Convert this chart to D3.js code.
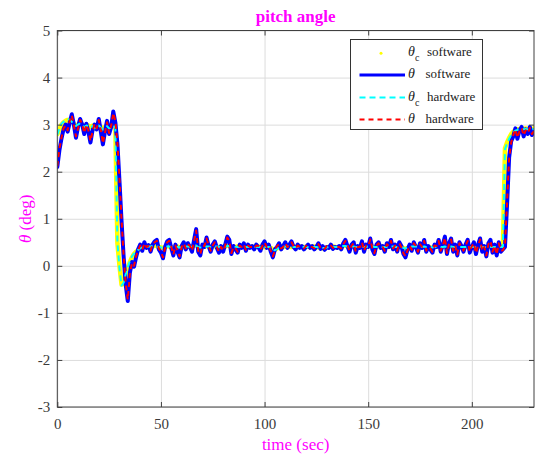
<!DOCTYPE html>
<html><head><meta charset="utf-8">
<script src="https://cdn.jsdelivr.net/npm/d3@7"></script>
<style>body{margin:0;background:#fff}svg{display:block}</style>
</head><body><svg id="c" width="535" height="458"></svg>
<script>
const xTicks=[0,50,100,150,200];
const yTicks=[-3,-2,-1,0,1,2,3,4,5];
const seriesNames=["software","software","hardware","hardware"];
const time=d3.range(0,231,1);

const thetaCSoftware=[
2.80,2.90,3.00,3.05,3.08,3.10,3.10,3.08,3.02,2.98,
3.00,3.05,3.00,2.95,3.00,2.98,2.95,2.98,2.92,2.95,
3.00,2.95,2.90,2.95,2.98,2.92,2.95,3.00,2.95,0.48,
0.00,-0.40,-0.38,-0.20,-0.05,0.08,0.18,0.25,0.30,0.33,
0.36,0.38,0.40,0.41,0.40,0.42,0.41,0.43,0.42,0.40,0.39,
0.38,0.40,0.42,0.41,0.39,0.38,0.40,0.41,0.39,0.38,
0.40,0.42,0.41,0.40,0.41,0.43,0.44,0.40,0.38,0.39,
0.41,0.42,0.41,0.40,0.40,0.42,0.41,0.39,0.38,0.40,
0.41,0.43,0.42,0.40,0.39,0.40,0.41,0.40,0.40,0.41,
0.40,0.39,0.40,0.41,0.40,0.40,0.41,0.40,0.39,0.40,
0.41,0.40,0.38,0.35,0.34,0.37,0.40,0.41,0.40,0.41,
0.42,0.41,0.40,0.41,0.40,0.40,0.41,0.40,0.40,0.40,
0.41,0.40,0.40,0.41,0.40,0.39,0.38,0.37,0.38,0.39,
0.40,0.40,0.41,0.40,0.39,0.40,0.41,0.42,0.43,0.42,
0.40,0.41,0.42,0.40,0.39,0.41,0.42,0.40,0.40,0.41,
0.43,0.41,0.39,0.40,0.42,0.41,0.40,0.39,0.41,0.40,
0.42,0.41,0.40,0.39,0.41,0.40,0.38,0.36,0.38,0.40,
0.41,0.42,0.41,0.40,0.41,0.40,0.42,0.40,0.40,0.39,
0.38,0.40,0.41,0.42,0.40,0.40,0.42,0.40,0.40,0.42,
0.40,0.40,0.38,0.40,0.41,0.40,0.40,0.42,0.40,0.39,
0.40,0.39,0.40,0.42,0.40,0.40,0.38,0.40,0.41,0.39,
0.40,0.38,0.40,0.39,0.40,
2.50,2.62,2.72,2.80,2.85,2.88,2.90,2.90,2.92,2.90,2.92,2.90,2.92,2.90,2.92];

const thetaSoftware=[
2.10,2.45,2.70,2.90,3.00,2.85,3.05,3.22,3.00,2.72,
2.95,3.12,3.00,2.80,3.02,2.85,2.62,2.88,3.00,2.90,
3.12,2.85,2.58,2.85,3.08,2.80,2.95,3.28,3.05,2.60,
1.80,0.95,0.20,-0.40,-0.75,-0.15,0.08,-0.02,0.18,0.35,
0.45,0.32,0.50,0.38,0.44,0.30,0.45,0.52,0.55,0.35,
0.28,0.16,0.40,0.52,0.55,0.38,0.22,0.45,0.30,0.18,
0.42,0.50,0.35,0.48,0.40,0.30,0.55,0.78,0.30,0.22,
0.45,0.40,0.60,0.42,0.30,0.45,0.52,0.38,0.28,0.42,
0.30,0.45,0.62,0.55,0.25,0.42,0.35,0.28,0.45,0.38,
0.48,0.32,0.45,0.38,0.42,0.35,0.45,0.40,0.32,0.45,
0.52,0.38,0.45,0.30,0.18,0.35,0.40,0.48,0.35,0.42,
0.50,0.38,0.45,0.52,0.40,0.35,0.45,0.38,0.42,0.35,
0.40,0.45,0.38,0.42,0.35,0.40,0.48,0.36,0.42,0.34,
0.40,0.38,0.45,0.36,0.40,0.38,0.42,0.35,0.48,0.55,
0.42,0.30,0.45,0.50,0.28,0.42,0.38,0.52,0.30,0.45,
0.40,0.58,0.35,0.25,0.45,0.50,0.38,0.42,0.30,0.48,
0.40,0.55,0.35,0.45,0.30,0.50,0.42,0.25,0.18,0.35,
0.45,0.32,0.50,0.40,0.28,0.48,0.38,0.55,0.30,0.42,
0.35,0.28,0.45,0.40,0.55,0.30,0.45,0.62,0.25,0.48,
0.58,0.30,0.45,0.22,0.50,0.42,0.30,0.45,0.55,0.28,
0.40,0.50,0.25,0.45,0.58,0.30,0.42,0.20,0.48,0.55,
0.28,0.45,0.22,0.50,0.30,0.35,0.40,1.30,2.30,2.65,
2.75,2.92,2.70,2.88,2.95,2.75,2.90,2.80,2.95,2.78,2.88];

const thetaCHardware=[
2.78,2.92,3.02,3.06,3.10,3.12,3.10,3.06,3.00,2.97,
3.00,3.03,2.98,2.95,2.98,2.97,2.93,2.97,2.92,2.94,
2.98,2.94,2.90,2.93,2.97,2.92,2.94,2.98,2.94,0.50,
-0.05,-0.42,-0.36,-0.18,-0.03,0.10,0.20,0.26,0.31,0.34,
0.37,0.39,0.40,0.40,0.41,0.41,0.42,0.42,0.41,0.40,0.39,
0.39,0.40,0.41,0.41,0.40,0.39,0.40,0.40,0.39,0.39,
0.40,0.41,0.41,0.40,0.41,0.42,0.43,0.40,0.39,0.39,
0.40,0.41,0.41,0.40,0.40,0.41,0.41,0.40,0.39,0.40,
0.41,0.42,0.42,0.40,0.39,0.40,0.40,0.40,0.40,0.40,
0.40,0.40,0.40,0.40,0.40,0.40,0.40,0.40,0.40,0.40,
0.40,0.40,0.38,0.34,0.33,0.36,0.39,0.40,0.40,0.41,
0.41,0.41,0.40,0.40,0.40,0.40,0.40,0.40,0.40,0.40,
0.40,0.40,0.40,0.40,0.40,0.39,0.38,0.38,0.38,0.39,
0.40,0.40,0.40,0.40,0.40,0.40,0.41,0.42,0.42,0.41,
0.40,0.41,0.41,0.40,0.40,0.41,0.41,0.40,0.40,0.41,
0.42,0.41,0.40,0.40,0.41,0.41,0.40,0.40,0.40,0.40,
0.41,0.41,0.40,0.40,0.40,0.40,0.38,0.37,0.38,0.40,
0.41,0.41,0.41,0.40,0.40,0.40,0.41,0.40,0.40,0.40,
0.39,0.40,0.41,0.41,0.40,0.40,0.41,0.40,0.40,0.41,
0.40,0.40,0.39,0.40,0.40,0.40,0.40,0.41,0.40,0.40,
0.40,0.40,0.40,0.41,0.40,0.40,0.39,0.40,0.40,0.40,
0.40,0.39,0.40,0.40,0.40,
2.48,2.60,2.70,2.78,2.84,2.87,2.89,2.90,2.91,2.90,2.91,2.90,2.91,2.90,2.91];

const thetaHardware=[
2.12,2.48,2.72,2.92,2.98,2.88,3.08,3.20,2.98,2.75,
2.92,3.10,3.02,2.82,3.00,2.88,2.65,2.85,3.02,2.92,
3.10,2.88,2.60,2.82,3.05,2.82,2.98,3.25,3.08,2.62,
1.85,0.98,0.22,-0.38,-0.72,-0.18,0.06,0.00,0.20,0.33,
0.43,0.34,0.48,0.40,0.42,0.32,0.47,0.50,0.53,0.37,
0.30,0.18,0.38,0.50,0.53,0.40,0.24,0.43,0.32,0.20,
0.40,0.48,0.37,0.46,0.42,0.32,0.53,0.75,0.32,0.24,
0.43,0.42,0.58,0.44,0.32,0.43,0.50,0.40,0.30,0.40,
0.32,0.43,0.60,0.53,0.27,0.40,0.37,0.30,0.43,0.40,
0.46,0.34,0.43,0.40,0.40,0.37,0.43,0.42,0.34,0.43,
0.50,0.40,0.43,0.32,0.20,0.33,0.42,0.46,0.37,0.40,
0.48,0.40,0.43,0.50,0.42,0.37,0.43,0.40,0.40,0.37,
0.42,0.43,0.40,0.40,0.37,0.42,0.46,0.38,0.40,0.36,
0.42,0.40,0.43,0.38,0.42,0.40,0.40,0.37,0.46,0.53,
0.44,0.32,0.43,0.48,0.30,0.40,0.40,0.50,0.32,0.43,
0.42,0.56,0.37,0.27,0.43,0.48,0.40,0.40,0.32,0.46,
0.42,0.53,0.37,0.43,0.32,0.48,0.40,0.27,0.20,0.33,
0.43,0.34,0.48,0.42,0.30,0.46,0.40,0.53,0.32,0.40,
0.37,0.30,0.43,0.42,0.53,0.32,0.43,0.60,0.27,0.46,
0.56,0.32,0.43,0.24,0.48,0.40,0.32,0.43,0.53,0.30,
0.42,0.48,0.27,0.43,0.56,0.32,0.40,0.22,0.46,0.53,
0.30,0.43,0.24,0.48,0.32,0.33,0.42,1.35,2.28,2.62,
2.78,2.90,2.72,2.86,2.93,2.77,2.88,2.82,2.93,2.80,2.86];

const FONT='"Liberation Serif","Times New Roman",serif';
const m={l:57.3,r:534,t:30.5,b:407};
const x=d3.scaleLinear().domain([0,230]).range([m.l,m.r]);
const y=d3.scaleLinear().domain([-3,5]).range([m.b,m.t]);
const svg=d3.select('#c');

// grid
svg.append('g').attr('transform',`translate(0,${m.b})`)
  .call(d3.axisBottom(x).tickValues(xTicks).tickSize(-(m.b-m.t)).tickFormat(''))
  .call(g=>{g.select('.domain').remove();g.selectAll('line').attr('stroke','#dcdcdc');});
svg.append('g').attr('transform',`translate(${m.l},0)`)
  .call(d3.axisLeft(y).tickValues(yTicks).tickSize(-(m.r-m.l)).tickFormat(''))
  .call(g=>{g.select('.domain').remove();g.selectAll('line').attr('stroke','#dcdcdc');});

// clip
svg.append('clipPath').attr('id','clip').append('rect')
  .attr('x',m.l).attr('y',m.t).attr('width',m.r-m.l).attr('height',m.b-m.t);

const line=d3.line().x((d,i)=>x(time[i])).y(d=>y(d));
const plot=svg.append('g').attr('clip-path','url(#clip)');
const styles=[
 {data:thetaCSoftware,color:'#ffff00',w:4.5,dash:null},
 {data:thetaSoftware,color:'#0000ff',w:4,dash:null},
 {data:thetaCHardware,color:'#00ffff',w:2,dash:'6 4'},
 {data:thetaHardware,color:'#ff0000',w:2,dash:'5 4'}
];
styles.forEach(s=>{
  plot.append('path').attr('d',line(s.data)).attr('fill','none')
    .attr('stroke',s.color).attr('stroke-width',s.w)
    .attr('stroke-linejoin','round').attr('stroke-linecap',s.dash?'butt':'round')
    .attr('stroke-dasharray',s.dash);
});

// axes box + ticks
const tickCol='#404040';
function styleAx(g){
  g.select('.domain').remove();
  g.selectAll('line').attr('stroke',tickCol);
  g.selectAll('text').attr('font-family',FONT).attr('font-size',15).attr('fill','#3a3a3a');
}
svg.append('g').attr('transform',`translate(0,${m.b})`)
  .call(d3.axisBottom(x).tickValues(xTicks).tickSizeInner(-5).tickSizeOuter(0).tickPadding(11).tickFormat(d=>String(d)))
  .call(styleAx);
svg.append('g').attr('transform',`translate(0,${m.t})`)
  .call(d3.axisTop(x).tickValues(xTicks).tickSizeInner(-5).tickSizeOuter(0).tickFormat(''))
  .call(styleAx);
svg.append('g').attr('transform',`translate(${m.l},0)`)
  .call(d3.axisLeft(y).tickValues(yTicks).tickSizeInner(-5).tickSizeOuter(0).tickPadding(7).tickFormat(d=>String(d)))
  .call(styleAx);
svg.append('g').attr('transform',`translate(${m.r},0)`)
  .call(d3.axisRight(y).tickValues(yTicks).tickSizeInner(-5).tickSizeOuter(0).tickFormat(''))
  .call(styleAx);
svg.append('rect').attr('x',m.l).attr('y',m.t).attr('width',m.r-m.l).attr('height',m.b-m.t)
  .attr('fill','none').attr('stroke',tickCol).attr('stroke-width',1);

// title and labels
svg.append('text').attr('x',(m.l+m.r)/2).attr('y',22).attr('text-anchor','middle')
  .attr('font-family',FONT).attr('font-weight','bold').attr('font-size',17).attr('fill','#ff00ff').text('pitch angle');
svg.append('text').attr('x',(m.l+m.r)/2).attr('y',450).attr('text-anchor','middle')
  .attr('font-family',FONT).attr('font-size',17).attr('fill','#ff00ff').text('time (sec)');
const yl=svg.append('text').attr('transform',`translate(31,${(m.t+m.b)/2}) rotate(-90)`).attr('text-anchor','middle')
  .attr('font-family',FONT).attr('font-size',17).attr('fill','#ff00ff');
yl.append('tspan').attr('font-style','italic').text('θ');
yl.append('tspan').text(' (deg)');

// legend
const lg=svg.append('g');
lg.append('rect').attr('x',350.5).attr('y',39.5).attr('width',132).attr('height',90)
  .attr('fill','#fff').attr('stroke','#333').attr('stroke-width',1);
const rows=[53.2,75.1,97.5,119.5];
const subs=[true,false,true,false];
styles.forEach((s,i)=>{
  const ry=rows[i];
  if(i===0){
    lg.append('circle').attr('cx',381).attr('cy',ry).attr('r',1.5).attr('fill',s.color);
  } else {
    lg.append('line').attr('x1',359.5).attr('x2',405).attr('y1',ry).attr('y2',ry)
      .attr('stroke',s.color).attr('stroke-width',i===1?3:2).attr('stroke-dasharray',s.dash);
  }
  const t=lg.append('text').attr('x',408).attr('y',ry+3).attr('font-family',FONT).attr('font-size',14).attr('fill','#222');
  t.append('tspan').attr('font-style','italic').text('θ');
  if(subs[i]) t.append('tspan').attr('font-size',10).attr('dy',5).text('c');
  lg.append('text').attr('x',subs[i]?427:425.5).attr('y',ry+3).attr('font-family',FONT).attr('font-size',13).attr('fill','#222').text(seriesNames[i]);
});
</script>
</body></html>
